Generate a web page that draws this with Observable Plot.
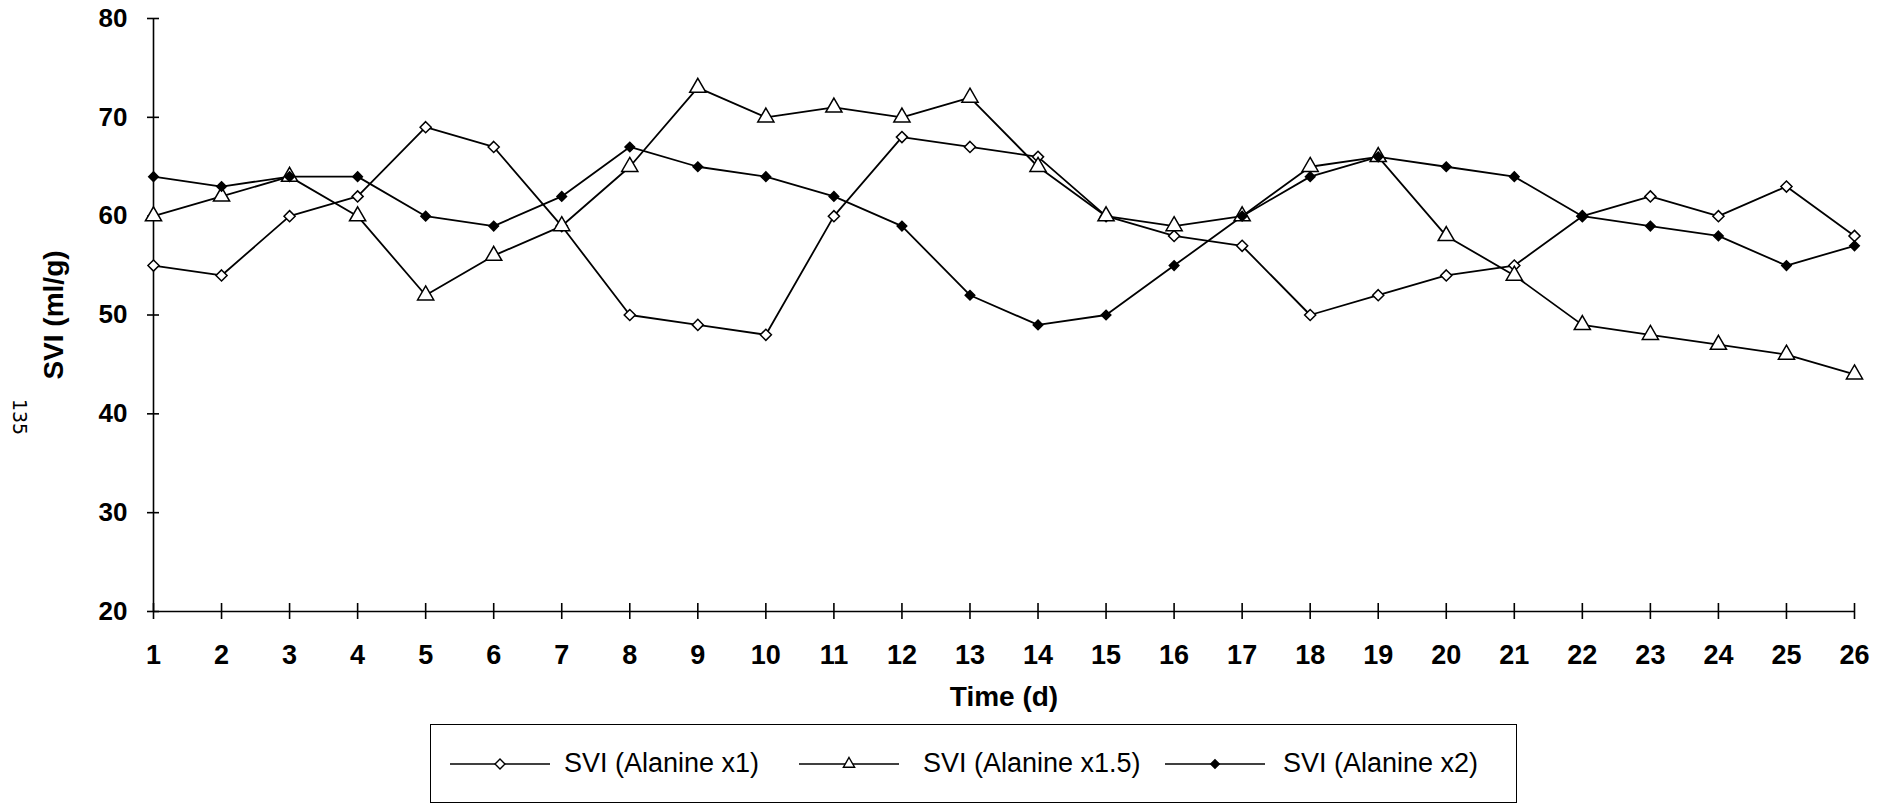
<!DOCTYPE html>
<html><head><meta charset="utf-8">
<script src="https://cdn.jsdelivr.net/npm/d3@7"></script>
<script src="https://cdn.jsdelivr.net/npm/@observablehq/plot@0.6"></script>
<style>
body{margin:0;background:#fff;}
#chart svg{display:block;}
.legend{position:absolute;left:430px;top:724px;width:1087px;height:79px;box-sizing:border-box;border:1.5px solid #000;font-family:"Liberation Sans",Arial,sans-serif;font-size:27px;color:#000;}
.item{position:absolute;top:0;height:100%;display:flex;align-items:center;}
.item svg{display:block;margin-right:16px;}
</style></head><body>
<div id="chart"></div>
<div class="legend" id="legend"></div>
<script>
// ---- data ----
const days = [1,2,3,4,5,6,7,8,9,10,11,12,13,14,15,16,17,18,19,20,21,22,23,24,25,26];
const sviAlanineX1  = [55,54,60,62,69,67,59,50,49,48,60,68,67,66,60,58,57,50,52,54,55,60,62,60,63,58];
const sviAlanineX15 = [60,62,64,60,52,56,59,65,73,70,71,70,72,65,60,59,60,65,66,58,54,49,48,47,46,44];
const sviAlanineX2  = [64,63,64,64,60,59,62,67,65,64,62,59,52,49,50,55,60,64,66,65,64,60,59,58,55,57];
const seriesNames = ["SVI (Alanine x1)", "SVI (Alanine x1.5)", "SVI (Alanine x2)"];
const yTicks = [20,30,40,50,60,70,80];
const xLabel = "Time (d)";
const yLabel = "SVI (ml/g)";
const pageNote = "135";

// ---- tidy table ----
const seriesValues = [sviAlanineX1, sviAlanineX15, sviAlanineX2];
const rows = seriesNames.flatMap((name, s) => days.map((d, i) => ({series: name, day: d, svi: seriesValues[s][i]})));
const bySeries = name => rows.filter(r => r.series === name);

const styles = {
  "SVI (Alanine x1)":   {symbol: "diamond2", r: 5,   fill: "white"},
  "SVI (Alanine x1.5)": {symbol: "triangle", r: 6,   fill: "white"},
  "SVI (Alanine x2)":   {symbol: "diamond2", r: 4.3, fill: "black"}
};

const tickFont = {fontFamily: "'Liberation Sans',Arial,sans-serif", fontSize: 27, fontWeight: "bold"};
const titleFont = {fontFamily: "'Liberation Sans',Arial,sans-serif", fontSize: 28, fontWeight: "bold"};

const marks = [
  Plot.ruleY([20], {stroke: "black", strokeWidth: 1.6}),
  Plot.ruleX([1], {stroke: "black", strokeWidth: 1.6}),
  // crossing tick marks
  Plot.axisX(days, {tickSize: 16, dy: -8, tickFormat: () => "", stroke: "black", strokeWidth: 1.6, label: null}),
  Plot.axisY(yTicks, {tickSize: 12, dx: 6, tickFormat: () => "", stroke: "black", strokeWidth: 1.6, label: null}),
  // tick labels
  Plot.axisX(days, {tickSize: 0, tickPadding: 33, ...tickFont, fill: "black", label: null}),
  Plot.axisY(yTicks, {tickSize: 0, tickPadding: 26, ...tickFont, fontSize: 26, fill: "black", label: null}),
  // titles
  Plot.text([xLabel], {frameAnchor: "bottom", textAnchor: "middle", dx: 0, dy: 94, ...titleFont, fill: "black"}),
  Plot.text([yLabel], {frameAnchor: "left", textAnchor: "middle", dx: -99, dy: 0, rotate: -90, ...titleFont, fill: "black"}),
  Plot.text([pageNote], {frameAnchor: "left", textAnchor: "middle", dx: -134, dy: 102, rotate: 90, fontFamily: "'DejaVu Sans',sans-serif", fontSize: 19, fill: "black"})
];
for (const name of seriesNames) {
  marks.push(Plot.line(bySeries(name), {x: "day", y: "svi", stroke: "black", strokeWidth: 1.8}));
}
for (const name of seriesNames) {
  const st = styles[name];
  marks.push(Plot.dot(bySeries(name), {x: "day", y: "svi", symbol: st.symbol, r: st.r, fill: st.fill, stroke: "black", strokeWidth: 1.5}));
}

const chart = Plot.plot({
  width: 1891,
  height: 720,
  marginLeft: 153,
  marginRight: 37,
  marginTop: 18,
  marginBottom: 109,
  style: {background: "white", color: "black"},
  x: {domain: [1, 26], axis: null},
  y: {domain: [20, 80], axis: null},
  marks
});
document.getElementById("chart").appendChild(chart);

// ---- legend ----
const legend = document.getElementById("legend");
const lefts = [19, 368, 734];
const gaps = [14, 24, 18];
const symMap = {diamond2: d3.symbolDiamond2, triangle: d3.symbolTriangle2};
seriesNames.forEach((name, i) => {
  const st = styles[name];
  const item = document.createElement("div");
  item.className = "item";
  item.style.left = lefts[i] + "px";
  const w = 100, h = 24;
  const path = d3.symbol(symMap[st.symbol], Math.PI * st.r * st.r * 0.8)();
  item.innerHTML = `<svg width="${w}" height="${h}" style="margin-right:${gaps[i]}px"><line x1="0" x2="${w}" y1="${h/2}" y2="${h/2}" stroke="black" stroke-width="1.6"/>` +
    `<path d="${path}" transform="translate(${w/2},${h/2})" fill="${st.fill}" stroke="black" stroke-width="1.4"/></svg><span>${name}</span>`;
  legend.appendChild(item);
});
</script>
</body></html>
